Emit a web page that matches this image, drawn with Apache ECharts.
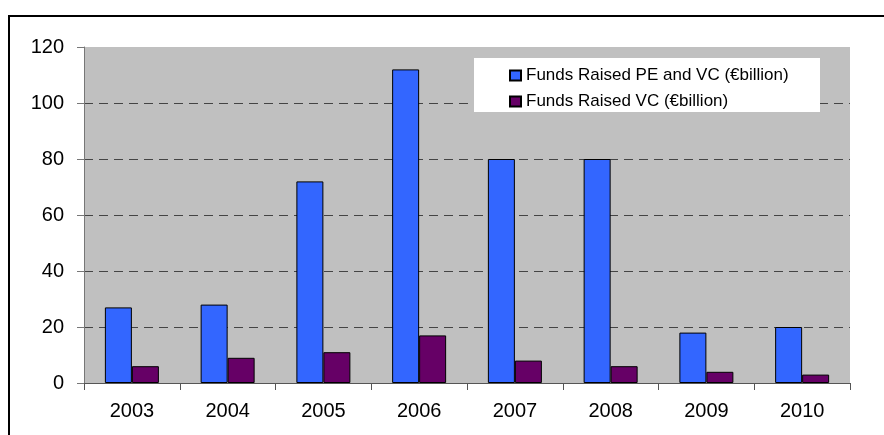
<!DOCTYPE html>
<html>
<head>
<meta charset="utf-8">
<script src="https://cdn.jsdelivr.net/npm/echarts@6/dist/echarts.min.js"></script>
<style>
html,body{margin:0;padding:0;background:#fff;}
#chart{width:884px;height:435px;}
</style>
</head>
<body>
<div id="chart"></div>
<script>
var categories = ['2003','2004','2005','2006','2007','2008','2009','2010'];
var peVcValues = [27, 28, 72, 112, 80, 80, 18, 20];
var vcValues = [6, 9, 11, 17, 8, 6, 4, 3];
var seriesNames = ['Funds Raised PE and VC (€billion)', 'Funds Raised VC (€billion)'];
var yTicks = { min: 0, max: 120, interval: 20 };

var chart = echarts.init(document.getElementById('chart'), null, {renderer: 'canvas'});
var font = 'Liberation Sans, Arial, sans-serif';
chart.setOption({
  animation: false,
  backgroundColor: '#fff',
  graphic: [
    { type: 'rect', z: 100, silent: true,
      shape: { x: 9, y: 16, width: 900, height: 500 },
      style: { fill: 'none', stroke: '#000', lineWidth: 2 } },
    { type: 'rect', z: 3, silent: true,
      shape: { x: 474, y: 58, width: 346, height: 54 },
      style: { fill: '#fff', stroke: 'none' } }
  ],
  grid: {
    left: 84, right: 34, top: 47, bottom: 52,
    show: true, backgroundColor: '#c0c0c0', borderWidth: 0
  },
  legend: {
    orient: 'vertical', left: 504, top: 62, z: 10,
    itemWidth: 11, itemHeight: 10, itemGap: 9,
    icon: 'rect',
    textStyle: { fontFamily: font, fontSize: 17, color: '#000' },
    data: seriesNames
  },
  xAxis: {
    type: 'category', data: categories,
    axisLine: { lineStyle: { color: '#555', width: 1 } },
    axisTick: { show: true, length: 7, lineStyle: { color: '#555' } },
    axisLabel: { fontFamily: font, fontSize: 20, color: '#000', margin: 18 },
    splitLine: { show: false }
  },
  yAxis: {
    type: 'value', min: yTicks.min, max: yTicks.max, interval: yTicks.interval,
    axisLine: { show: true, lineStyle: { color: '#777', width: 1 } },
    axisTick: { show: true, length: 7, lineStyle: { color: '#777' } },
    axisLabel: { fontFamily: font, fontSize: 20, color: '#000', margin: 20 },
    splitLine: { show: true, lineStyle: {
      color: ['rgba(0,0,0,0)', '#444', '#444', '#444', '#444', '#444', 'rgba(0,0,0,0)'],
      type: [9, 6], width: 1 } }
  },
  series: [
    { name: seriesNames[0], type: 'bar', data: peVcValues, barWidth: 27, barGap: '0%',
      itemStyle: { color: '#3366ff', borderColor: '#000', borderWidth: 1 } },
    { name: seriesNames[1], type: 'bar', data: vcValues, barWidth: 27, barGap: '0%',
      itemStyle: { color: '#660066', borderColor: '#000', borderWidth: 1 } }
  ]
});
</script>
</body>
</html>
